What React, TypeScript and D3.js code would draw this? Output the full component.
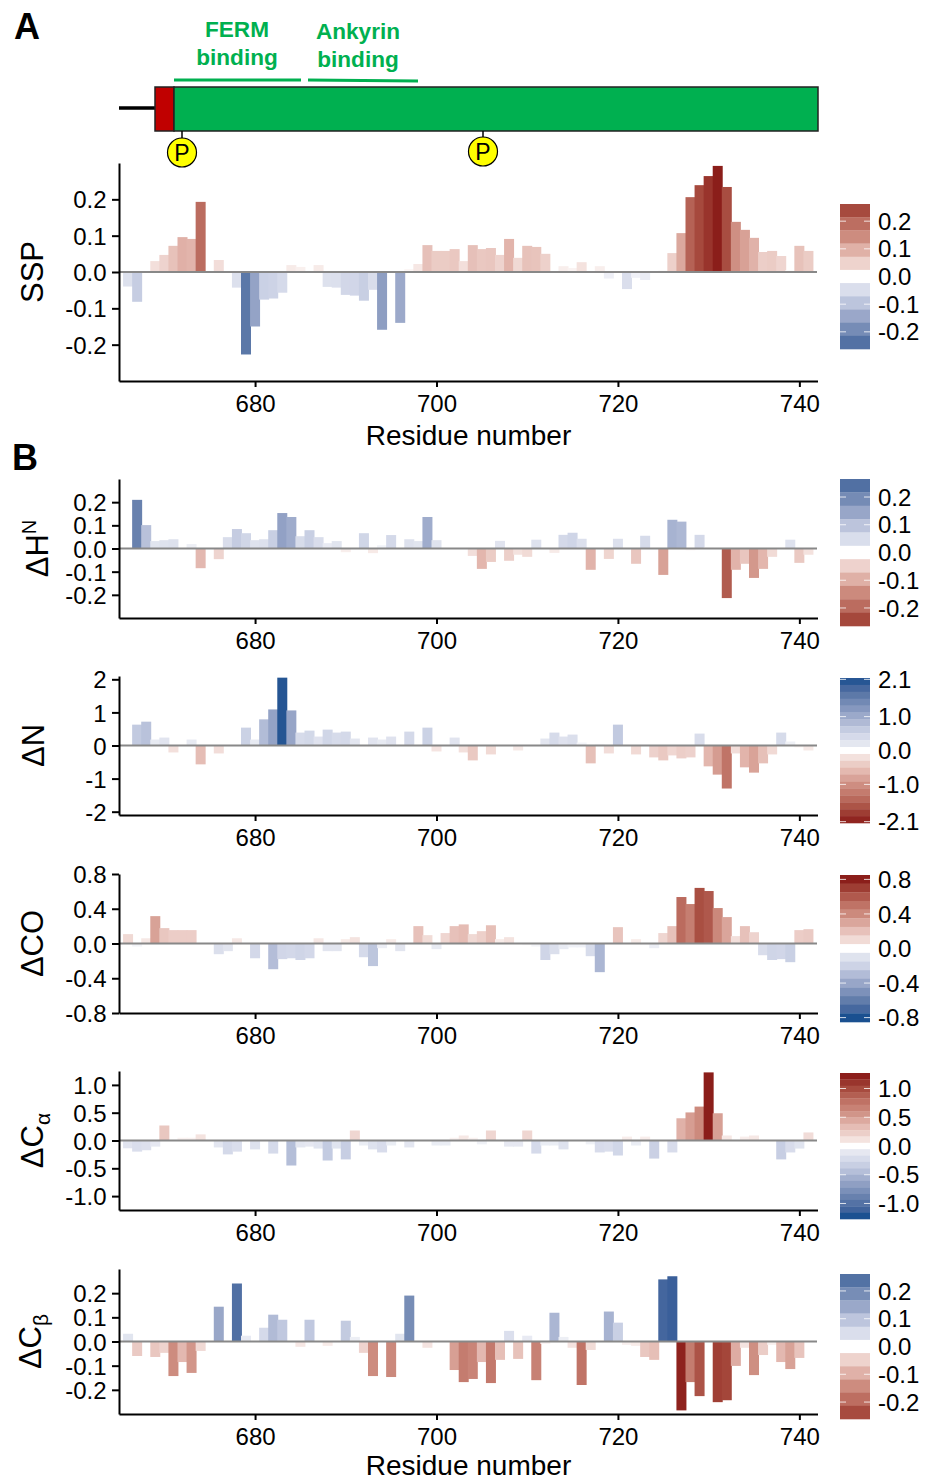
import React, { useEffect, useRef } from "react";
import * as d3 from "d3";

const residues = d3.range(666, 742);
const xTicks = [680, 700, 720, 740];

// rows of ten residues: 666, 676, 686, ...
const sspValues = [
    -0.04, -0.082, 0, 0.03, 0.047, 0.072, 0.096, 0.091, 0.193, 0,
    0.033, 0, -0.043, -0.227, -0.15, -0.076, -0.073, -0.057, 0.019, 0.014,
    0, 0.019, -0.041, -0.043, -0.063, -0.065, -0.079, -0.049, -0.159, 0,
    -0.14, 0.008, 0.022, 0.074, 0.058, 0.058, 0.063, 0.03, 0.074, 0.063,
    0.066, 0.047, 0.091, 0.039, 0.072, 0.069, 0.05, 0, 0.016, 0.011,
    0.027, 0, 0.016, -0.018, 0, -0.047, -0.016, -0.022, 0, 0.005,
    0.052, 0.107, 0.206, 0.239, 0.264, 0.292, 0.234, 0.138, 0.116, 0.094,
    0.055, 0.058, 0.044, 0.005, 0.072, 0.058,
];
const dHValues = [
    0, 0.21, 0.101, 0.032, 0.036, 0.04, 0, 0.019, -0.085, 0,
    -0.046, 0.049, 0.084, 0.066, 0.036, 0.04, 0.079, 0.153, 0.136, 0.053,
    0.079, 0.049, 0.023, 0.032, -0.016, 0, 0.066, -0.02, 0.014, 0.058,
    0, 0.04, 0.032, 0.136, 0.036, 0, 0, 0, -0.032, -0.088,
    -0.058, 0.033, -0.053, -0.027, -0.036, 0.038, 0, -0.019, 0.059, 0.068,
    0.042, -0.092, 0, -0.045, 0.042, 0, -0.066, 0.055, 0, -0.114,
    0.124, 0.116, -0.008, 0.059, 0.005, 0, -0.214, -0.092, -0.066, -0.127,
    -0.088, -0.036, 0, 0.038, -0.062, -0.027,
];
const dNValues = [
    0, 0.63, 0.72, 0.18, 0.24, -0.21, 0, 0.18, -0.57, 0,
    -0.24, 0, 0, 0.54, 0.18, 0.79, 1.09, 2.05, 1.06, 0.39,
    0.45, 0.27, 0.48, 0.39, 0.42, 0.21, -0.03, 0.24, 0.18, 0.27,
    0, 0.42, 0.02, 0.54, -0.18, 0, 0.24, -0.21, -0.45, 0,
    -0.27, 0, 0, -0.15, 0, 0, 0.21, 0.39, 0.27, 0.33,
    0.09, -0.54, 0.05, -0.24, 0.63, 0, -0.27, 0.03, -0.36, -0.45,
    -0.3, -0.39, -0.36, 0.36, -0.63, -0.88, -1.3, -0.24, -0.66, -0.82,
    -0.54, -0.27, 0.39, 0.12, -0.06, -0.15,
];
const dCOValues = [
    0.108, -0.035, 0.06, 0.315, 0.177, 0.154, 0.154, 0.154, 0, 0,
    -0.123, -0.088, 0.06, 0, -0.17, 0, -0.296, -0.18, -0.17, -0.19,
    -0.17, 0.06, -0.088, -0.088, 0.05, 0.073, -0.158, -0.26, -0.054, 0.05,
    -0.088, 0, 0.2, 0.096, -0.065, 0.12, 0.2, 0.22, 0.108, 0.142,
    0.21, 0.05, 0.073, 0, -0.02, -0.035, -0.19, -0.123, -0.065, -0.045,
    -0.045, -0.146, -0.33, 0, 0.188, 0, 0.05, -0.02, -0.054, 0.12,
    0.2, 0.535, 0.454, 0.64, 0.604, 0.408, 0.304, 0.085, 0.2, 0.13,
    -0.135, -0.19, -0.18, -0.215, 0.154, 0.165,
];
const dCaValues = [
    -0.14, -0.2, -0.175, -0.11, 0.27, 0, 0.05, 0.05, 0.11, 0,
    -0.125, -0.25, -0.2, 0, -0.16, 0, -0.235, 0, -0.45, -0.125,
    -0.11, -0.145, -0.36, -0.145, -0.34, 0.18, -0.09, -0.16, -0.215, -0.09,
    0, -0.125, 0, 0, -0.09, -0.09, 0.05, 0.09, 0.05, -0.07,
    0.18, 0, -0.11, -0.11, 0.18, -0.235, -0.09, -0.09, -0.16, 0,
    0, -0.07, -0.215, -0.2, -0.27, 0.07, -0.09, 0.07, -0.325, 0,
    -0.215, 0.4, 0.505, 0.61, 1.225, 0.49, 0.09, 0, 0.07, 0.09,
    0, 0, -0.34, -0.215, -0.145, 0.145,
];
const dCbValues = [
    0.032, -0.06, 0, -0.064, -0.047, -0.143, -0.085, -0.13, -0.039, 0,
    0.144, 0, 0.24, 0.024, 0, 0.057, 0.111, 0.09, 0, -0.022,
    0.09, 0, -0.018, 0, 0.086, 0.019, -0.047, -0.143, 0, -0.147,
    0.032, 0.19, 0, -0.026, 0.003, 0, -0.118, -0.168, -0.155, -0.085,
    -0.172, -0.076, 0.044, -0.072, 0.024, -0.16, -0.01, 0.119, 0.019, -0.026,
    -0.18, -0.035, 0, 0.124, 0.078, -0.014, -0.018, -0.064, -0.076, 0.257,
    0.27, -0.285, -0.168, -0.226, 0, -0.251, -0.243, -0.101, -0.026, -0.139,
    -0.056, -0.014, -0.085, -0.114, -0.068, 0,
];

const panels = [
    { name: "SSP", sub: "", sup: "", values: sspValues, top: 163, bottom: 381, extent: 0.3, ticks: [-0.2, -0.1, 0, 0.1, 0.2], digits: 1, colorMax: 0.29, sign: 1, labelX: 32, legendTop: 204, legendBottom: 349, legendExtent: 0.262, bands: 11, legendTicks: [0.2, 0.1, 0, -0.1, -0.2] },
    { name: "\u0394H", sub: "", sup: "N", values: dHValues, top: 479, bottom: 618, extent: 0.3, ticks: [-0.2, -0.1, 0, 0.1, 0.2], digits: 1, colorMax: 0.29, sign: -1, labelX: 37, legendTop: 479, legendBottom: 626, legendExtent: 0.265, bands: 11, legendTicks: [0.2, 0.1, 0, -0.1, -0.2] },
    { name: "\u0394N", sub: "", sup: "", values: dNValues, top: 676, bottom: 815, extent: 2.1, ticks: [-2, -1, 0, 1, 2], digits: 0, colorMax: 2.1, sign: -1, labelX: 33, legendTop: 678, legendBottom: 823, legendExtent: 2.14, bands: 21, legendTicks: [2.1, 1, 0, -1, -2.1] },
    { name: "\u0394CO", sub: "", sup: "", values: dCOValues, top: 874, bottom: 1013, extent: 0.8, ticks: [-0.8, -0.4, 0, 0.4, 0.8], digits: 1, colorMax: 0.8, sign: 1, labelX: 32, legendTop: 875, legendBottom: 1022, legendExtent: 0.851, bands: 17, legendTicks: [0.8, 0.4, 0, -0.4, -0.8] },
    { name: "\u0394C", sub: "\u03B1", sup: "", values: dCaValues, top: 1071, bottom: 1210, extent: 1.25, ticks: [-1, -0.5, 0, 0.5, 1], digits: 1, colorMax: 1.22, sign: 1, labelX: 32, legendTop: 1073, legendBottom: 1219, legendExtent: 1.27, bands: 23, legendTicks: [1, 0.5, 0, -0.5, -1] },
    { name: "\u0394C", sub: "\u03B2", sup: "", values: dCbValues, top: 1269, bottom: 1414, extent: 0.3, ticks: [-0.2, -0.1, 0, 0.1, 0.2], digits: 1, colorMax: 0.29, sign: -1, labelX: 30, legendTop: 1274, legendBottom: 1419, legendExtent: 0.261, bands: 11, legendTicks: [0.2, 0.1, 0, -0.1, -0.2] },
];

const FONT = "'Liberation Sans', Arial, sans-serif";
const GREEN = "#00B050";

// shared blue-white-red ramp, t runs from -1 (blue) to 1 (red)
const ramp = d3
    .scaleLinear<string>()
    .domain([-1, -0.93, -0.78, -0.5, -0.25, -0.1, 0, 0.1, 0.31, 0.5, 0.66, 0.83, 1])
    .range(["#1A5090", "#3A5F9A", "#5C78A8", "#98A6C8", "#CDD3E6", "#E3E6F0", "#FFFFFF", "#F3E0DC", "#E2B5AC", "#CC8A7D", "#BC6D60", "#A5483C", "#8B1E1A"])
    .clamp(true);

const App = () => {
    const svgRef = useRef<SVGSVGElement>(null);

    useEffect(() => {
        const svg = d3.select(svgRef.current);
        svg.selectAll("*").remove();
        svg.attr("font-family", FONT);

        const x = d3.scaleLinear().domain([665, 742]).range([119, 817.5]);
        const barW = 10;

        // domain schematic
        svg.append("line").attr("x1", 119).attr("x2", 155).attr("y1", 108).attr("y2", 108).attr("stroke", "black").attr("stroke-width", 3.5);
        svg.append("rect").attr("x", 155).attr("y", 87).attr("width", 19).attr("height", 44).attr("fill", "#C00000").attr("stroke", "#222").attr("stroke-width", 1.5);
        svg.append("rect").attr("x", 174).attr("y", 87).attr("width", 644).attr("height", 44).attr("fill", GREEN).attr("stroke", "#222").attr("stroke-width", 1.5);
        svg.append("line").attr("x1", 174).attr("x2", 301).attr("y1", 80).attr("y2", 80).attr("stroke", GREEN).attr("stroke-width", 3);
        svg.append("line").attr("x1", 308).attr("x2", 418).attr("y1", 80).attr("y2", 81).attr("stroke", GREEN).attr("stroke-width", 3);

        [
            { text: "FERM", cx: 237, y: 37 },
            { text: "binding", cx: 237, y: 65 },
            { text: "Ankyrin", cx: 358, y: 39 },
            { text: "binding", cx: 358, y: 67 },
        ].forEach((d) => {
            svg.append("text").attr("x", d.cx).attr("y", d.y).attr("text-anchor", "middle").attr("font-weight", "bold").attr("font-size", 22.6).attr("fill", GREEN).text(d.text);
        });

        [{ cx: 182, cy: 152.5 }, { cx: 483, cy: 151.5 }].forEach((d) => {
            svg.append("line").attr("x1", d.cx).attr("x2", d.cx).attr("y1", 131).attr("y2", d.cy).attr("stroke", "black").attr("stroke-width", 1.5);
            svg.append("circle").attr("cx", d.cx).attr("cy", d.cy).attr("r", 14.5).attr("fill", "#FFFF00").attr("stroke", "black").attr("stroke-width", 1.2);
            svg.append("text").attr("x", d.cx).attr("y", d.cy + 8).attr("text-anchor", "middle").attr("font-size", 23).attr("fill", "black").text("P");
        });

        svg.append("text").attr("x", 14).attr("y", 39).attr("font-weight", "bold").attr("font-size", 36).text("A");
        svg.append("text").attr("x", 12).attr("y", 470).attr("font-weight", "bold").attr("font-size", 36).text("B");

        panels.forEach((p) => {
            const y = d3.scaleLinear().domain([-p.extent, p.extent]).range([p.bottom, p.top]);
            const color = (v: number) => ramp((p.sign * v) / p.colorMax);
            const g = svg.append("g");

            g.selectAll("rect.bar")
                .data(residues)
                .join("rect")
                .attr("class", "bar")
                .attr("x", (r) => x(r) - barW / 2)
                .attr("width", barW)
                .attr("y", (r, i) => Math.min(y(p.values[i]), y(0)))
                .attr("height", (r, i) => Math.abs(y(p.values[i]) - y(0)))
                .attr("fill", (r, i) => color(p.values[i]));

            g.append("line").attr("x1", 119).attr("x2", 817).attr("y1", y(0)).attr("y2", y(0)).attr("stroke", "#888").attr("stroke-width", 2);

            const yAxis = g.append("g").attr("transform", "translate(119,0)")
                .call(d3.axisLeft(y).tickValues(p.ticks).tickSize(7).tickPadding(5.5).tickSizeOuter(0).tickFormat((d) => (+d).toFixed(p.digits)));
            const xAxis = g.append("g").attr("transform", `translate(0,${p.bottom})`)
                .call(d3.axisBottom(x).tickValues(xTicks).tickSize(6).tickPadding(8).tickSizeOuter(0).tickFormat((d) => String(d)));
            [yAxis, xAxis].forEach((a) => {
                a.attr("font-family", FONT).attr("font-size", 24);
                a.selectAll("path, line").attr("stroke", "black").attr("stroke-width", 2);
                a.selectAll("text").attr("fill", "black");
            });
            yAxis.selectAll("text").attr("dy", "0.36em");

            // rotated panel label
            const labelY = (p.top + p.bottom) / 2;
            const label = g.append("text")
                .attr("transform", `translate(${p.labelX + 11},${labelY}) rotate(-90)`)
                .attr("text-anchor", "middle")
                .attr("font-size", 31);
            label.append("tspan").text(p.name);
            if (p.sub) label.append("tspan").attr("font-size", 21).attr("dy", 7).text(p.sub);
            if (p.sup) label.append("tspan").attr("font-size", 20).attr("dy", -12).text(p.sup);

            // stepped colour legend
            const legendY = d3.scaleLinear().domain([-p.legendExtent, p.legendExtent]).range([p.legendBottom, p.legendTop]);
            const bandH = (p.legendBottom - p.legendTop) / p.bands;
            const legend = g.append("g");
            legend.selectAll("rect")
                .data(d3.range(p.bands))
                .join("rect")
                .attr("x", 840)
                .attr("width", 30)
                .attr("y", (i) => p.legendTop + i * bandH)
                .attr("height", bandH + 0.3)
                .attr("fill", (i) => color(legendY.invert(p.legendTop + (i + 0.5) * bandH)));

            p.legendTicks.forEach((v) => {
                const ty = legendY(v);
                if (v !== 0) {
                    legend.append("line").attr("x1", 840).attr("x2", 846).attr("y1", ty).attr("y2", ty).attr("stroke", "white").attr("stroke-width", 0.8);
                    legend.append("line").attr("x1", 864).attr("x2", 870).attr("y1", ty).attr("y2", ty).attr("stroke", "white").attr("stroke-width", 0.8);
                }
                legend.append("text").attr("x", 878).attr("y", ty).attr("dy", "0.36em").attr("font-size", 24).text(v.toFixed(1));
            });
        });

        [445, 1475].forEach((yPos) => {
            svg.append("text").attr("x", 468.5).attr("y", yPos).attr("text-anchor", "middle").attr("font-size", 28).text("Residue number");
        });
    }, []);

    return <svg ref={svgRef} width={933} height={1481} style={{ position: "absolute", left: 0, top: 0, display: "block" }}></svg>;
};

export default App;
